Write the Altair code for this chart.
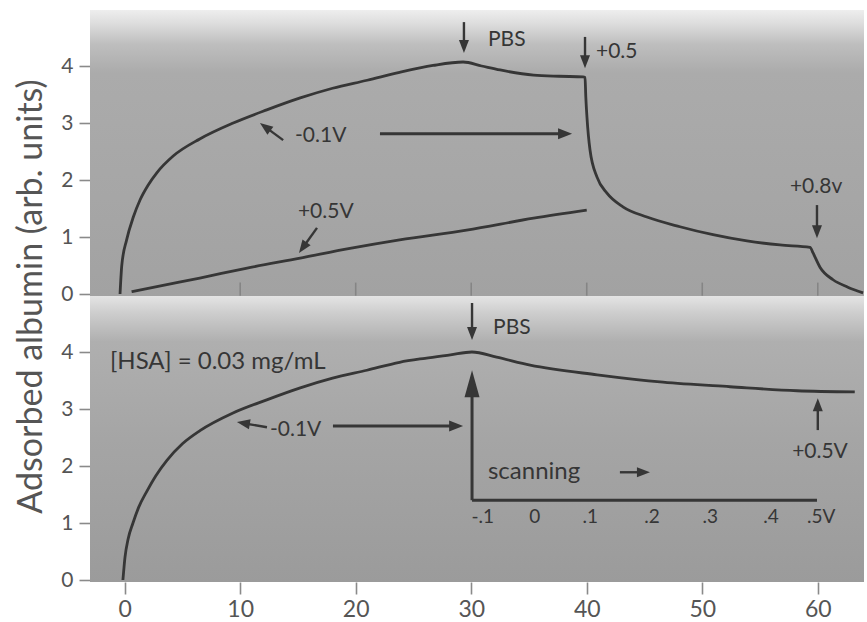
import math
import altair as alt
import pandas as pd

# ---------------- values ----------------
# Upper panel: adsorption at -0.1 V, PBS rinse (~29 min), +0.5 V (~40 min), +0.8 V (~60 min)
top_neg_time = [-0.4, -0.25, 0.17, 0.75, 1.33, 2.0, 2.8, 4.2, 6.5, 9.4, 12.3, 15.2, 18.0, 21.0,
                23.8, 26.7, 29.3, 30.9, 32.5, 35.4, 37.6, 39.68, 39.85, 39.92, 40.02, 40.28,
                40.89, 41.75, 43.13, 45.21, 48.07, 50.93, 53.87, 56.73, 59.33, 59.59, 60.19,
                61.32, 62.6, 63.92]
top_neg_ads = [0.0, 0.50, 0.95, 1.35, 1.65, 1.90, 2.13, 2.42, 2.72, 3.00, 3.23, 3.44, 3.61, 3.75,
               3.89, 4.01, 4.07, 4.00, 3.93, 3.84, 3.82, 3.81, 3.80, 3.45, 3.10, 2.53,
               2.05, 1.77, 1.53, 1.35, 1.18, 1.04, 0.93, 0.86, 0.82, 0.72, 0.47,
               0.25, 0.12, 0.02]
# Upper panel: adsorption at +0.5 V
top_pos_time = [0.6, 3.0, 6.5, 10.5, 15.2, 19.5, 23.8, 29.6, 35.4, 40.0]
top_pos_ads = [0.04, 0.14, 0.28, 0.45, 0.63, 0.80, 0.95, 1.12, 1.33, 1.47]
# Lower panel: -0.1 V, PBS rinse, then potential scanned up to +0.5 V
bot_time = [-0.15, 0.03, 0.3, 0.72, 1.2, 1.93, 2.7, 3.66, 5.0, 6.52, 9.38, 12.3, 15.2, 18.0,
            20.97, 23.8, 26.0, 28.2, 30.06, 32.2, 35.1, 40.9, 46.6, 52.4, 58.2, 63.2]
bot_ads = [0.0, 0.40, 0.72, 1.0, 1.27, 1.56, 1.83, 2.10, 2.39, 2.62, 2.93, 3.16, 3.37, 3.54,
           3.68, 3.82, 3.89, 3.95, 4.0, 3.91, 3.77, 3.60, 3.47, 3.39, 3.32, 3.30]

y_tick_values = [0, 1, 2, 3, 4]
x_tick_values = [0, 10, 20, 30, 40, 50, 60]

scan_tick_labels = ["-.1", "0", ".1", ".2", ".3", ".4", ".5V"]
scan_tick_time = [31.0, 35.5, 40.3, 45.65, 50.7, 55.95, 60.3]
scan_tick_ads = 1.105

# annotation arrows: panel, from (t, a), to (t, a) -- head at "to"
arrow_panel = ["top", "top", "top", "top", "top", "top",
               "bot", "bot", "bot", "bot", "bot", "bot", "bot"]
arrow_t1 = [29.37, 39.85, 13.72, 22.1, 16.65, 59.93, 30.07, 12.32, 18.03, 30.07, 42.87, 60.0, 30.07]
arrow_a1 = [4.77, 4.51, 2.70, 2.81, 1.16, 1.56, 4.86, 2.68, 2.70, 1.40, 1.89, 2.63, 1.40]
arrow_t2 = [29.37, 39.85, 11.71, 38.73, 15.09, 59.93, 30.07, 9.72, 29.3, 30.07, 45.47, 60.0, 59.93]
arrow_a2 = [4.23, 3.96, 3.00, 2.81, 0.72, 0.98, 4.21, 2.77, 2.70, 3.68, 1.89, 3.19, 1.40]
arrow_kind = ["small", "small", "small", "long", "small", "small",
              "small", "small", "long", "axis", "small", "small", "line"]

# annotation texts
text_panel = ["top", "top", "top", "top", "top", "bot", "bot", "bot", "bot", "bot"]
text_t = [31.45, 40.8, 14.75, 15.0, 59.85, 31.89, -1.27, 12.58, 31.45, 60.19]
text_a = [4.46, 4.25, 2.77, 1.44, 1.88, 4.42, 3.82, 2.63, 1.89, 2.25]
text_label = ["PBS", "+0.5", "-0.1V", "+0.5V", "+0.8v", "PBS", "[HSA] = 0.03 mg/mL",
              "-0.1V", "scanning", "+0.5V"]
text_size = [21, 21, 21, 21, 21, 21, 24, 21, 24, 21]
text_align = ["left", "left", "left", "left", "center", "left", "left", "left", "left", "center"]

# ---------------- layout ----------------
W, H = 774, 572
X_DOM = [-3, 64]
PXU = 57.0                      # pixels per adsorption unit
U_MAX = H / PXU
BOT_OFF = 2 / PXU               # lower panel zero
TOP_OFF = 288 / PXU             # upper panel zero
SPLIT = 286 / PXU               # boundary between panels
XS = W / (X_DOM[1] - X_DOM[0])  # pixels per minute

FONT = "Lato"
INK = "#363636"


def off(panel):
    return TOP_OFF if panel == "top" else BOT_OFF


rows = []
for name, ts, vs, p in [("top_neg", top_neg_time, top_neg_ads, "top"),
                        ("top_pos", top_pos_time, top_pos_ads, "top"),
                        ("bot", bot_time, bot_ads, "bot")]:
    for i, (t, v) in enumerate(zip(ts, vs)):
        rows.append({"t": t, "u": v + off(p), "series": name, "i": i})
curves = pd.DataFrame(rows)

bg_top = pd.DataFrame({"t": [X_DOM[0]], "t2": [X_DOM[1]], "u": [SPLIT], "u2": [U_MAX]})
bg_bot = pd.DataFrame({"t": [X_DOM[0]], "t2": [X_DOM[1]], "u": [0.0], "u2": [SPLIT]})

shafts, heads = [], []
# arrow head: length and width in px (path drawn tip-up in a [-1, 1] box)
HEAD = {"small": (13, 10), "long": (14, 11), "axis": (27, 15)}
WIDTH = {"small": 2.4, "long": 3.0, "axis": 3.0, "line": 3.0}
for p, t1, a1, t2, a2, k in zip(arrow_panel, arrow_t1, arrow_a1, arrow_t2, arrow_a2, arrow_kind):
    u1, u2 = a1 + off(p), a2 + off(p)
    if k == "line":
        shafts.append({"t": t1, "u": u1, "t2": t2, "u2": u2, "w": WIDTH[k]})
        continue
    dx, dy = (t2 - t1) * XS, (u2 - u1) * PXU
    L = math.hypot(dx, dy)
    ux, uy = dx / L, dy / L
    hl, hw = HEAD[k]
    ct = t2 - ux * hl / 2 / XS
    cu = u2 - uy * hl / 2 / PXU
    ang = math.degrees(math.atan2(dx, dy)) % 360
    wr = hw / hl
    path = f"M0,-1L{wr:.3f},1L-{wr:.3f},1Z"
    shafts.append({"t": t1, "u": u1, "t2": ct, "u2": cu, "w": WIDTH[k]})
    heads.append({"t": ct, "u": cu, "ang": ang, "size": hl * hl, "path": path})
shafts = pd.DataFrame(shafts)
heads = pd.DataFrame(heads)

texts = pd.DataFrame({"t": text_t, "u": [a + off(p) for a, p in zip(text_a, text_panel)],
                      "label": text_label, "fs": text_size, "align": text_align})
scan_df = pd.DataFrame({"t": scan_tick_time, "u": [scan_tick_ads + BOT_OFF] * len(scan_tick_time),
                        "label": scan_tick_labels})
inner_ticks = pd.DataFrame({"t": x_tick_values[1:]})
inner_ticks["u"] = TOP_OFF - 0.03
inner_ticks["u2"] = TOP_OFF + 0.2

xs = alt.Scale(domain=X_DOM, nice=False, zero=False)
ys = alt.Scale(domain=[0, U_MAX], nice=False, zero=False)

y_vals = [v + BOT_OFF for v in y_tick_values] + [v + TOP_OFF for v in y_tick_values]
x_axis = alt.Axis(values=x_tick_values, domain=False, grid=False, tickSize=12, tickWidth=1.6,
                  tickColor="#8a8a8a", labelFontSize=23, labelColor="#555555", labelFont=FONT,
                  labelPadding=4, title=None)
y_axis = alt.Axis(values=y_vals, domain=False, grid=False, tickSize=11, tickWidth=1.6,
                  tickColor="#8a8a8a", labelFontSize=21, labelColor="#555555", labelFont=FONT,
                  labelPadding=6,
                  labelExpr=f"'' + (datum.value > {SPLIT} ? round(datum.value - {TOP_OFF}) : round(datum.value - {BOT_OFF}))",
                  title="Adsorbed albumin (arb. units)", titleFontSize=34, titleFont=FONT,
                  titleFontWeight="normal", titleColor="#555555", titlePadding=12)

X = alt.X("t:Q", scale=xs, axis=x_axis)
Y = alt.Y("u:Q", scale=ys, axis=y_axis)


def grad(stops):
    return {"gradient": "linear", "x1": 0, "y1": 0, "x2": 0, "y2": 1,
            "stops": [{"offset": o, "color": c} for o, c in stops]}


top_bg = alt.Chart(bg_top).mark_rect(
    fill=grad([(0, "#eeeeee"), (0.05, "#dcdcdc"), (0.12, "#bebebe"), (0.22, "#ababab"), (1, "#a2a2a2")])
).encode(x=X, x2="t2:Q", y=Y, y2="u2:Q")

bot_bg = alt.Chart(bg_bot).mark_rect(
    fill=grad([(0, "#e4e4e4"), (0.06, "#cdcdcd"), (0.16, "#afafaf"), (0.5, "#a5a5a5"), (1, "#9b9b9b")])
).encode(x=X, x2="t2:Q", y=Y, y2="u2:Q")

ticks_layer = alt.Chart(inner_ticks).mark_rule(color="#858585", strokeWidth=1.6).encode(
    x=X, y=Y, y2="u2:Q")

lines = alt.Chart(curves).mark_line(color=INK, strokeWidth=2.8, interpolate="monotone").encode(
    x=X, y=Y, detail="series:N", order="i:Q")

shaft_layer = alt.Chart(shafts).mark_rule(color=INK).encode(
    x=X, x2="t2:Q", y=Y, y2="u2:Q",
    strokeWidth=alt.StrokeWidth("w:Q", scale=None))

head_layer = alt.Chart(heads).mark_point(filled=True, color=INK, opacity=1, strokeWidth=0).encode(
    x=X, y=Y,
    angle=alt.Angle("ang:Q", scale=None),
    size=alt.Size("size:Q", scale=None),
    shape=alt.Shape("path:N", scale=None))

text_left = alt.Chart(texts[texts["align"] == "left"]).mark_text(
    align="left", baseline="middle", font=FONT, color=INK).encode(
    x=X, y=Y, text="label:N", size=alt.Size("fs:Q", scale=None))

text_center = alt.Chart(texts[texts["align"] == "center"]).mark_text(
    align="center", baseline="middle", font=FONT, color=INK).encode(
    x=X, y=Y, text="label:N", size=alt.Size("fs:Q", scale=None))

scan_text = alt.Chart(scan_df).mark_text(
    align="center", baseline="middle", font=FONT, color=INK, fontSize=19).encode(
    x=X, y=Y, text="label:N")

chart = alt.layer(top_bg, bot_bg, ticks_layer, lines, shaft_layer, head_layer,
                  text_left, text_center, scan_text).properties(
    width=W, height=H,
    autosize=alt.AutoSizeParams(type="none"),
    padding={"left": 90, "top": 10, "right": 3, "bottom": 40},
    background="white",
).configure_view(stroke=None)

chart.save("out.html", embed_options={"renderer": "svg", "actions": False})
